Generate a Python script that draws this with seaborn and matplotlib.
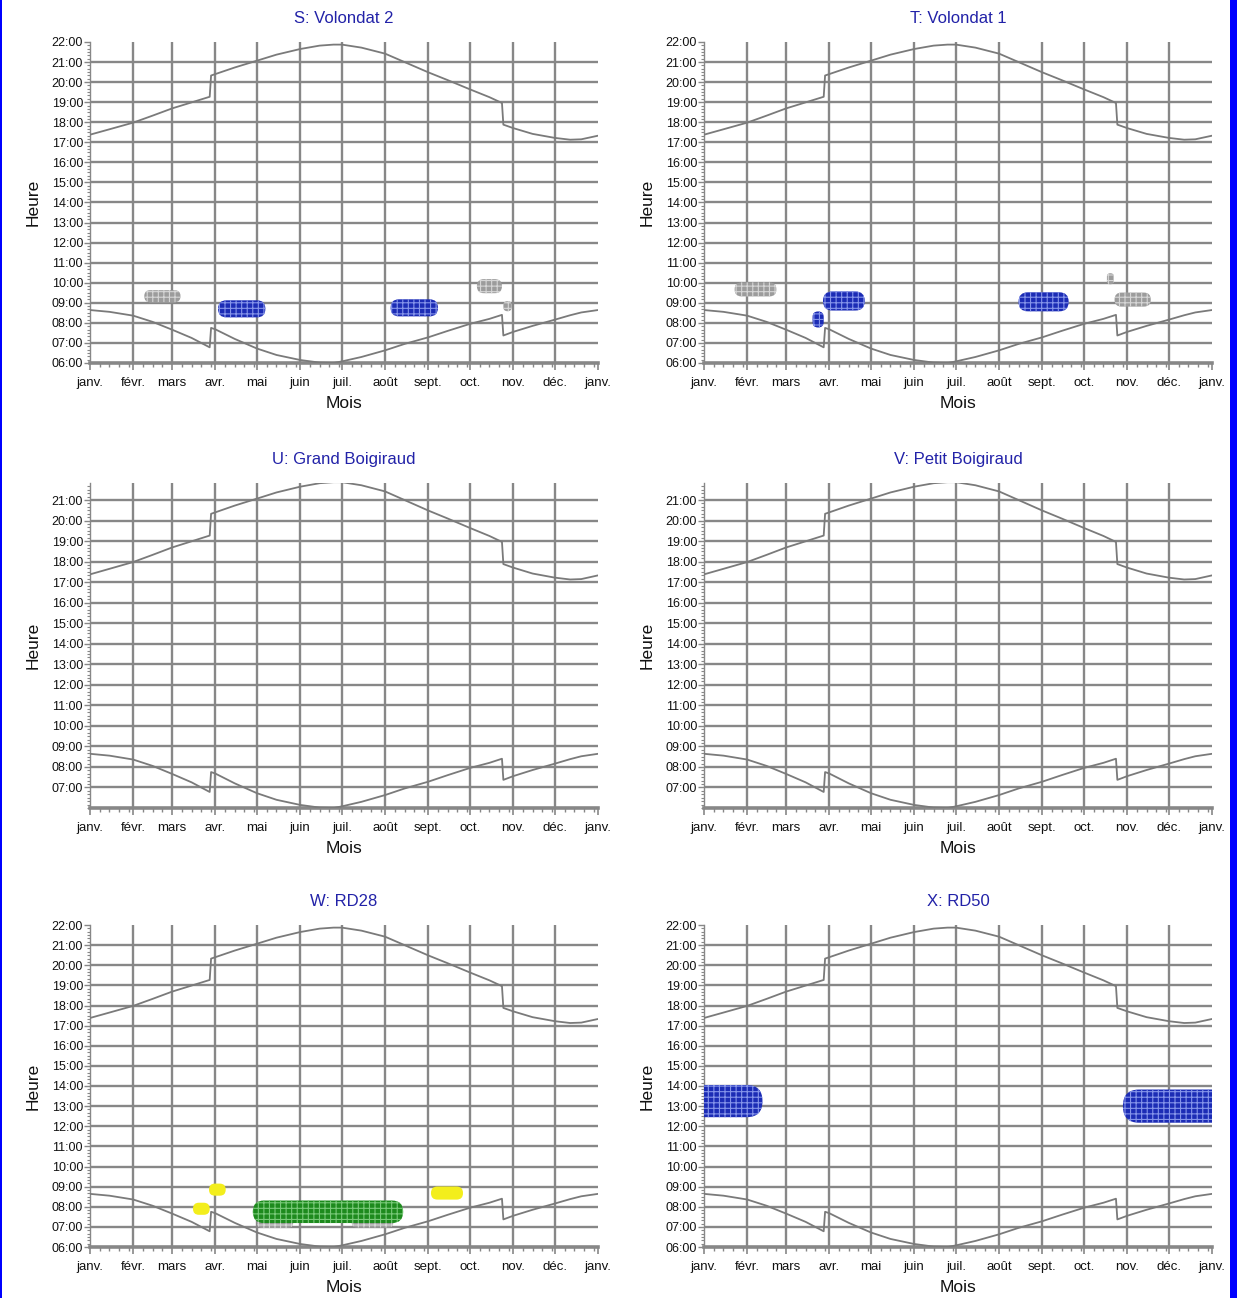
import matplotlib
matplotlib.use('Agg')
import matplotlib.pyplot as plt
from matplotlib.patches import FancyBboxPatch, Rectangle
from matplotlib.ticker import FixedLocator, FuncFormatter
import numpy as np
import pandas as pd
import seaborn as sns

sns.set_theme(style='white')
plt.rcParams['font.family'] = ['Liberation Sans', 'DejaVu Sans']
plt.rcParams['hatch.linewidth'] = 0.8

jours = [0, 14, 31, 45, 59, 73, 86, 87, 90, 104, 120, 134, 151, 165, 175, 181, 195,
         212, 226, 243, 257, 273, 287, 296, 297, 304, 318, 334, 345, 353, 365]
coucher = [17.38, 17.65, 17.98, 18.33, 18.69, 18.99, 19.27, 20.33, 20.40, 20.73, 21.07,
           21.37, 21.65, 21.82, 21.87, 21.87, 21.72, 21.42, 21.00, 20.49, 20.10, 19.64,
           19.25, 18.96, 17.88, 17.71, 17.42, 17.22, 17.13, 17.15, 17.33]
lever = [8.64, 8.55, 8.36, 8.05, 7.66, 7.25, 6.78, 7.75, 7.68, 7.20, 6.72, 6.40, 6.15,
         6.02, 6.00, 6.08, 6.30, 6.63, 6.95, 7.28, 7.60, 7.95, 8.20, 8.40, 7.37, 7.55,
         7.85, 8.16, 8.38, 8.52, 8.64]

mois_debut = [0, 31, 59, 90, 120, 151, 181, 212, 243, 273, 304, 334, 365]
mois_noms = ['janv.', 'févr.', 'mars', 'avr.', 'mai', 'juin', 'juil.', 'août',
             'sept.', 'oct.', 'nov.', 'déc.', 'janv.']

titres = ['S: Volondat 2', 'T: Volondat 1', 'U: Grand Boigiraud',
          'V: Petit Boigiraud', 'W: RD28', 'X: RD50']

# zones d'eblouissement : centre (jour, heure), largeur (jours), hauteur (heures), type
S_jour = [52, 109, 233, 287, 300]
S_heure = [9.33, 8.70, 8.75, 9.83, 8.83]
S_larg = [26, 34, 34, 18, 6]
S_haut = [0.6, 0.85, 0.85, 0.7, 0.5]
S_type = ['gris', 'bleu', 'bleu', 'gris', 'gris']

T_jour = [37, 82, 100.5, 244, 292, 308]
T_heure = [9.67, 8.17, 9.09, 9.05, 10.2, 9.16]
T_larg = [30, 8, 30, 36, 5, 26]
T_haut = [0.7, 0.8, 0.95, 0.95, 0.55, 0.7]
T_type = ['gris', 'bleu', 'bleu', 'bleu', 'gris', 'gris']

W_jour = [80, 91.5, 133, 203, 171, 256.5]
W_heure = [7.9, 8.85, 7.22, 7.24, 7.75, 8.68]
W_larg = [12, 12, 26, 30, 108, 23]
W_haut = [0.6, 0.6, 0.55, 0.55, 1.12, 0.65]
W_type = ['jaune', 'jaune', 'gris', 'gris', 'vert', 'jaune']

X_jour = [10, 343]
X_heure = [13.25, 13.0]
X_larg = [64, 84]
X_haut = [1.6, 1.65]
X_type = ['bleu', 'bleu']

zones = {
    0: (S_jour, S_heure, S_larg, S_haut, S_type),
    1: (T_jour, T_heure, T_larg, T_haut, T_type),
    4: (W_jour, W_heure, W_larg, W_haut, W_type),
    5: (X_jour, X_heure, X_larg, X_haut, X_type),
}

couleurs = {
    'bleu': ('#1c2cb5', '#8594ea'),
    'gris': ('#9c9c9c', '#d6d6d6'),
    'vert': ('#1d8a1d', '#78c878'),
    'jaune': ('#f3ee1c', None),
}

W_FIG, H_FIG = 1252, 1298
gris = '#878787'

fig = plt.figure(figsize=(W_FIG / 100, H_FIG / 100), dpi=100)
fig.patch.set_facecolor('white')

lefts = [90, 704]
# (bas en px, hauteur en px, ylim haut)
rangs = [(363, 321, 22.0), (808, 325, 21.83), (1247, 322, 22.0)]

df = pd.DataFrame({'jour': jours, 'coucher': coucher, 'lever': lever})

for i, titre in enumerate(titres):
    r, c = divmod(i, 2)
    bas, haut, ytop = rangs[r]
    ax = fig.add_axes([lefts[c] / W_FIG, 1 - bas / H_FIG, 508 / W_FIG, haut / H_FIG])
    ax.set_facecolor('white')
    ax.set_xlim(0, 365)
    ax.set_ylim(6, ytop)

    # grille
    for m in mois_debut[1:-1]:
        ax.axvline(m, color=gris, lw=1.7, zorder=1)
    for h in range(7, 22):
        ax.axhline(h, color=gris, lw=1.7, zorder=1)

    sns.lineplot(data=df, x='jour', y='coucher', ax=ax, color='#7a7a7a', lw=1.3,
                 estimator=None, sort=False, zorder=3)
    sns.lineplot(data=df, x='jour', y='lever', ax=ax, color='#7a7a7a', lw=1.3,
                 estimator=None, sort=False, zorder=3)

    if i in zones:
        zj, zh, zl, zha, zt = zones[i]
        a = (508 / 365) / (haut / (ytop - 6))   # jours -> heures a l'ecran
        for d, h, w, ht, k in zip(zj, zh, zl, zha, zt):
            fc, hc = couleurs[k]
            rr = min(w / 2, ht / (2 * a)) * 0.98
            p = FancyBboxPatch((d - w / 2, h - ht / 2), w, ht,
                               boxstyle=f'round,pad=0,rounding_size={rr}',
                               mutation_aspect=a, facecolor=fc,
                               edgecolor=hc if hc else fc, lw=0,
                               hatch='+++' if hc else None, zorder=4)
            ax.add_patch(p)

    # axes et graduations
    yt = [6 + k for k in range(17)] if ytop > 21.9 else [7 + k for k in range(15)]
    ax.yaxis.set_major_locator(FixedLocator(yt))
    ax.yaxis.set_minor_locator(FixedLocator([6 + k / 6 for k in range(int((ytop - 6) * 6) + 1)]))
    ax.yaxis.set_major_formatter(FuncFormatter(lambda v, p: f'{int(round(v)):02d}:00'))
    ax.xaxis.set_major_locator(FixedLocator(mois_debut))
    ax.xaxis.set_minor_locator(FixedLocator([m + k for m in mois_debut[:-1] for k in (7, 14, 21, 28)]))
    ax.set_xticklabels(mois_noms)

    ax.tick_params(axis='y', which='major', left=True, length=4, width=1, color=gris,
                   labelsize=9, pad=1, labelcolor='#111111')
    ax.tick_params(axis='y', which='minor', left=True, length=2.5, width=0.8, color=gris)
    ax.tick_params(axis='x', which='major', bottom=True, length=5, width=1.2, color=gris,
                   labelsize=9.5, pad=5, labelcolor='#111111')
    ax.tick_params(axis='x', which='minor', bottom=True, length=3, width=1, color=gris)

    for s in ['top', 'right']:
        ax.spines[s].set_visible(False)
    ax.spines['left'].set_color(gris)
    ax.spines['left'].set_linewidth(1)
    ax.spines['bottom'].set_color(gris)
    ax.spines['bottom'].set_linewidth(2.6)

    ax.set_xlabel('Mois', fontsize=12.5, color='#111111')
    ax.set_ylabel('Heure', fontsize=12.5, color='#111111')
    ax.xaxis.set_label_coords(0.5, -0.103)
    ax.yaxis.set_label_coords(-0.097, 0.5)
    ax.set_title(titre, fontsize=12, color='#2222a8', pad=14)

# cadre bleu
fig.add_artist(Rectangle((0, 0), 2 / W_FIG, 1, transform=fig.transFigure,
                         color='#0000ff', lw=0))
fig.add_artist(Rectangle((1230 / W_FIG, 0), 7 / W_FIG, 1, transform=fig.transFigure,
                         color='#0000ff', lw=0))

fig.savefig('out.png', dpi=100)
